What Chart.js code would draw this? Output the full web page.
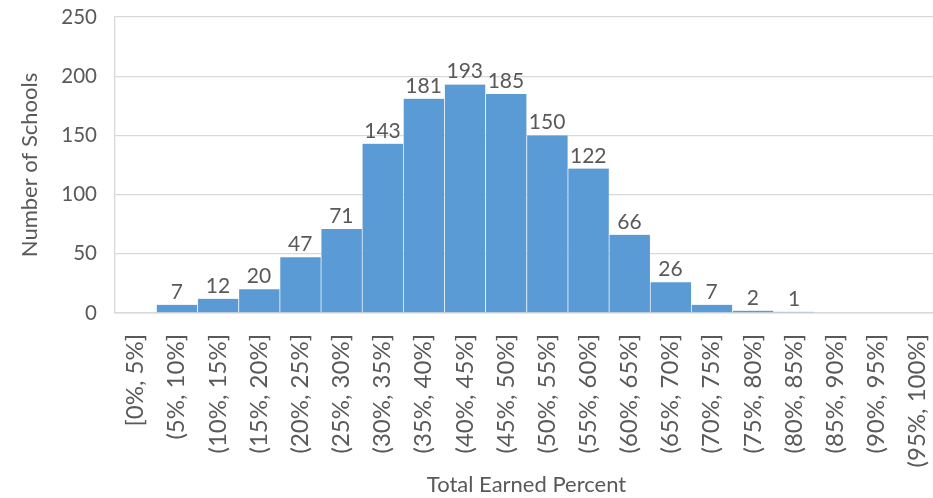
<!DOCTYPE html>
<html>
<head>
<meta charset="utf-8">
<script src="https://cdn.jsdelivr.net/npm/chart.js@4.4.1/dist/chart.umd.min.js"></script>
<style>
  html, body { margin:0; padding:0; background:#fff; overflow:hidden; }
  #wrap { position:relative; width:950px; height:498px; }
</style>
</head>
<body>
<div id="wrap"><canvas id="chart-hist"></canvas></div>
<script>
    // bins and counts
    const binLabels = ['[0%, 5%]', '(5%, 10%]', '(10%, 15%]', '(15%, 20%]', '(20%, 25%]',
        '(25%, 30%]', '(30%, 35%]', '(35%, 40%]', '(40%, 45%]', '(45%, 50%]',
        '(50%, 55%]', '(55%, 60%]', '(60%, 65%]', '(65%, 70%]', '(70%, 75%]',
        '(75%, 80%]', '(80%, 85%]', '(85%, 90%]', '(90%, 95%]', '(95%, 100%]'];
    const schoolCounts = [0, 7, 12, 20, 47, 71, 143, 181, 193, 185, 150, 122, 66, 26, 7, 2, 1, 0, 0, 0];
    const yTicks = [0, 50, 100, 150, 200, 250];

    const FONT = 'Lato, "Open Sans", sans-serif';
    const TXT = '#595959';
    const GRID = '#d9d9d9';

    // value labels above bars (zeros are left blank)
    const barLabels = {
        id: 'barLabels',
        afterDatasetsDraw(chart) {
            const ctx = chart.ctx;
            const meta = chart.getDatasetMeta(0);
            ctx.save();
            ctx.font = '21px ' + FONT;
            ctx.fillStyle = TXT;
            ctx.textAlign = 'center';
            ctx.textBaseline = 'alphabetic';
            meta.data.forEach((el, i) => {
                const v = schoolCounts[i];
                if (!v) return;
                ctx.fillText(String(v), el.x, el.y - 6);
            });
            ctx.restore();
        }
    };

    new Chart(document.getElementById('chart-hist'), {
        type: 'bar',
        data: {
            labels: binLabels,
            datasets: [{
                label: 'Number of Schools',
                data: schoolCounts,
                backgroundColor: '#5b9bd5',
                borderColor: 'rgba(255,255,255,0.25)',
                borderWidth: { left: 1, right: 0, top: 0, bottom: 0 },
                barPercentage: 1,
                categoryPercentage: 1
            }]
        },
        options: {
            responsive: true,
            maintainAspectRatio: false,
            animation: false,
            layout: { padding: { top: 17, right: 12, left: 0, bottom: 0 } },
            plugins: { legend: { display: false }, tooltip: { enabled: false } },
            scales: {
                x: {
                    grid: { display: false },
                    border: { display: true, color: GRID, width: 1.5 },
                    ticks: { color: TXT, font: { family: FONT, size: 24 }, minRotation: 90, maxRotation: 90, padding: 13, autoSkip: false },
                    title: { display: true, text: 'Total Earned Percent', color: TXT, font: { family: FONT, size: 22 }, padding: 0 },
                    afterFit: s => { s.height = 185; s.paddingLeft = 0; s.paddingRight = 0; }
                },
                y: {
                    min: 0, max: 250,
                    afterBuildTicks: s => { s.ticks = yTicks.map(v => ({ value: v })); },
                    grid: { color: GRID, lineWidth: 1.3, drawTicks: false },
                    border: { display: true, color: GRID, width: 1.3 },
                    ticks: { color: TXT, font: { family: FONT, size: 20.5 }, padding: 18 },
                    title: { display: true, text: 'Number of Schools', color: TXT, font: { family: FONT, size: 22 }, padding: { top: 17 } },
                    afterFit: s => { s.width = 115; s.paddingTop = 0; s.paddingBottom = 0; }
                }
            }
        },
        plugins: [barLabels]
    });
</script>
</body>
</html>
